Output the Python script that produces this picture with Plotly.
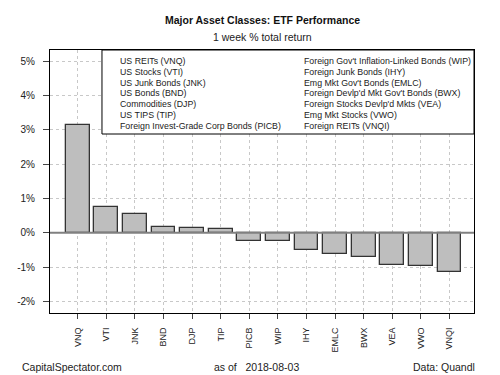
import plotly.graph_objects as go

tickers = ["VNQ", "VTI", "JNK", "BND", "DJP", "TIP", "PICB", "WIP", "IHY", "EMLC", "BWX", "VEA", "VWO", "VNQI"]
returns = [3.15, 0.74, 0.54, 0.17, 0.13, 0.10, -0.24, -0.25, -0.51, -0.63, -0.71, -0.95, -0.98, -1.13]
legend_left = ["US REITs (VNQ)", "US Stocks (VTI)", "US Junk Bonds (JNK)", "US Bonds (BND)",
               "Commodities (DJP)", "US TIPS (TIP)", "Foreign Invest-Grade Corp Bonds (PICB)"]
legend_right = ["Foreign Gov't Inflation-Linked Bonds (WIP)", "Foreign Junk Bonds (IHY)",
                "Emg Mkt Gov't Bonds (EMLC)", "Foreign Devlp'd Mkt Gov't Bonds (BWX)",
                "Foreign Stocks Devlp'd Mkts (VEA)", "Emg Mkt Stocks (VWO)", "Foreign REITs (VNQI)"]
y_ticks = [-2, -1, 0, 1, 2, 3, 4, 5]
y_ticklabels = ["-2%", "-1%", "0%", "1%", "2%", "3%", "4%", "5%"]

FONT = "Liberation Sans, Arial, sans-serif"

fig = go.Figure()
fig.add_trace(go.Bar(
    x=tickers, y=returns, width=0.833,
    marker=dict(color="#BEBEBE", line=dict(color="#333333", width=1.3)),
    showlegend=False,
))

# zero line on top
fig.add_shape(type="line", xref="paper", yref="y", x0=0, x1=1, y0=0, y1=0,
              line=dict(color="#808080", width=2), layer="above")

# legend box
fig.add_shape(type="rect", xref="paper", yref="paper", x0=0.1226, x1=1.0, y0=0.6806, y1=1.0,
              fillcolor="white", line=dict(color="black", width=1), layer="above")

L, R, T, B = 50, 26, 50, 62
W, H = 500, 375
pw, ph = W - L - R, H - T - B

def px_x(x):
    return (x - L) / pw

def px_y(y):
    return (H - B - y) / ph

for i, (a, b) in enumerate(zip(legend_left, legend_right)):
    yy = px_y(61 + i * 10.8)
    fig.add_annotation(x=px_x(117.5), y=yy, xref="paper", yref="paper", text=a, showarrow=False,
                       xanchor="left", yanchor="middle", font=dict(size=8.8, color="#222", family=FONT))
    fig.add_annotation(x=px_x(302), y=yy, xref="paper", yref="paper", text=b, showarrow=False,
                       xanchor="left", yanchor="middle", font=dict(size=8.8, color="#222", family=FONT))

fig.add_annotation(x=0.5, y=px_y(20), xref="paper", yref="paper", text="<b>Major Asset Classes: ETF Performance</b>",
                   showarrow=False, xanchor="center", yanchor="middle", font=dict(size=10.5, color="#111", family=FONT))
fig.add_annotation(x=0.5, y=px_y(37), xref="paper", yref="paper", text="1 week % total return",
                   showarrow=False, xanchor="center", yanchor="middle", font=dict(size=10.5, color="#222", family=FONT))
fig.add_annotation(x=px_x(20), y=px_y(367), xref="paper", yref="paper", text="CapitalSpectator.com",
                   showarrow=False, xanchor="left", yanchor="middle", font=dict(size=10.5, color="#222", family=FONT))
fig.add_annotation(x=px_x(256), y=px_y(367), xref="paper", yref="paper", text="as of   2018-08-03",
                   showarrow=False, xanchor="center", yanchor="middle", font=dict(size=10.5, color="#222", family=FONT))
fig.add_annotation(x=px_x(477), y=px_y(367), xref="paper", yref="paper", text="Data: Quandl",
                   showarrow=False, xanchor="right", yanchor="middle", font=dict(size=10.5, color="#222", family=FONT))

fig.update_layout(
    width=W, height=H,
    margin=dict(l=L, r=R, t=T, b=B, pad=0, autoexpand=False),
    paper_bgcolor="white", plot_bgcolor="white",
    font=dict(family=FONT, size=10, color="#222"),
    bargap=0,
)
fig.update_xaxes(
    type="category", range=[-0.97, 13.86], automargin=False,
    showgrid=True, gridcolor="#c8c8c8", griddash="dot", gridwidth=1,
    tickangle=-90, ticks="outside", ticklen=5, tickcolor="#444",
    tickfont=dict(size=9, color="#222", family=FONT),
    showline=True, linecolor="black", linewidth=1, mirror=True,
    ticklabelstandoff=5,
)
fig.update_yaxes(
    range=[-2.34, 5.33], tickvals=y_ticks, ticktext=y_ticklabels, automargin=False,
    showgrid=True, gridcolor="#c8c8c8", griddash="dot", gridwidth=1,
    zeroline=False, ticks="outside", ticklen=6, tickcolor="#444",
    tickfont=dict(size=10, color="#222", family=FONT),
    showline=True, linecolor="black", linewidth=1, mirror=True,
    ticklabelstandoff=6,
)

fig.write_html("out.html", config={"displayModeBar": False},
               post_script="document.body.style.margin='0';document.body.style.padding='0';")
